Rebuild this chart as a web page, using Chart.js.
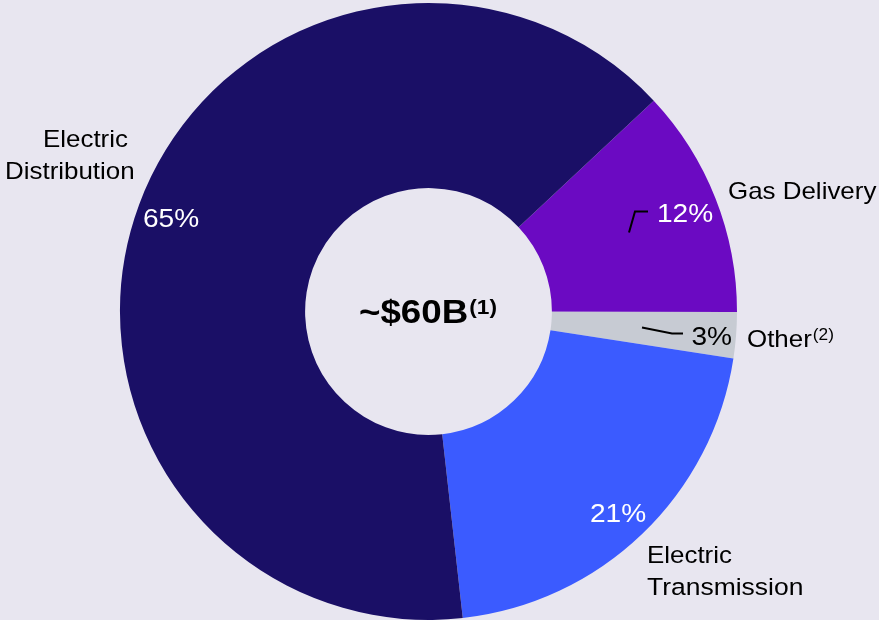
<!DOCTYPE html>
<html>
<head>
<meta charset="utf-8">
<title>Rate base by segment</title>
<script src="https://cdn.jsdelivr.net/npm/chart.js@4.4.1/dist/chart.umd.min.js"></script>
<style>
  html, body { margin: 0; padding: 0; background: #e8e6f0; }
  #wrap { width: 879px; height: 620px; }
</style>
</head>
<body>
<div id="wrap"><canvas id="myChart" width="879" height="620"></canvas></div>
<script>
'use strict';

//***************** Data *****************
// slices go clockwise, starting at Gas Delivery (upper right)
let segmentNames = ['Gas Delivery', 'Other', 'Electric Transmission', 'Electric Distribution'];
let segmentShares = [12.0, 2.4, 20.8, 64.8];
let shareLabels = ['12%', '3%', '21%', '65%'];
let totalLabel = '~$60B';
let totalNote = '(1)';
let otherNote = '(2)';

//***************** Styles *****************
let sliceColors = ['#6b0ac2', '#c7cbd3', '#3b5bff', '#1a0f66'];
let fontFamily = '"Liberation Sans", Arial, Helvetica, sans-serif';
let stretch = 1.08; // text in the picture is a bit wide

//***************** Canvas Reference *****************
let ctx = document.getElementById('myChart');

// write text with a small horizontal stretch, left edge at x
function drawText(c, text, x, y, size, color, bold) {
  c.save();
  c.font = (bold ? 'bold ' : '') + size + 'px ' + fontFamily;
  c.fillStyle = color;
  c.textAlign = 'left';
  c.textBaseline = 'alphabetic';
  c.translate(x, y);
  c.scale(stretch, 1);
  c.fillText(text, 0, 0);
  let w = c.measureText(text).width * stretch;
  c.restore();
  return w;
}

function drawLeader(c, pts) {
  c.save();
  c.strokeStyle = '#000000';
  c.lineWidth = 2;
  c.beginPath();
  c.moveTo(pts[0][0], pts[0][1]);
  for (let i = 1; i < pts.length; i++) {
    c.lineTo(pts[i][0], pts[i][1]);
  }
  c.stroke();
  c.restore();
}

//***************** Label plugin *****************
// labels sit relative to the ring centre that Chart.js worked out
let labelPlugin = {
  id: 'segmentLabels',
  afterDatasetsDraw(chart) {
    let c = chart.ctx;
    let arc = chart.getDatasetMeta(0).data[0];
    let cx = arc.x;
    let cy = arc.y;

    // centre total
    let w = drawText(c, totalLabel, cx - 69.5, cy + 11, 34, '#000000', true);
    drawText(c, totalNote, cx - 69.5 + w + 1, cy + 2, 21, '#000000', true);

    // Gas Delivery
    drawText(c, segmentNames[0], cx + 299.5, cy - 113, 24, '#000000', false);
    drawText(c, shareLabels[0], cx + 228.5, cy - 90, 26, '#ffffff', false);
    drawLeader(c, [[cx + 200.5, cy - 79], [cx + 206.5, cy - 100], [cx + 219.5, cy - 100]]);

    // Other
    drawText(c, shareLabels[1], cx + 263, cy + 33, 26, '#000000', false);
    drawLeader(c, [[cx + 213.5, cy + 16], [cx + 243.5, cy + 22], [cx + 254.5, cy + 22]]);
    let ow = drawText(c, 'Other', cx + 318.5, cy + 35, 24, '#000000', false);
    drawText(c, otherNote, cx + 318.5 + ow + 1, cy + 28, 16, '#000000', false);

    // Electric Transmission
    drawText(c, shareLabels[2], cx + 161.5, cy + 210, 26, '#ffffff', false);
    drawText(c, 'Electric', cx + 218.5, cy + 251, 24, '#000000', false);
    drawText(c, 'Transmission', cx + 218.5, cy + 283, 24.5, '#000000', false);

    // Electric Distribution
    drawText(c, shareLabels[3], cx - 285.5, cy - 85, 26, '#ffffff', false);
    drawText(c, 'Electric', cx - 385.5, cy - 165, 24, '#000000', false);
    drawText(c, 'Distribution', cx - 423.5, cy - 133, 24, '#000000', false);
  }
};

//***************** Chart *****************
let myChartObj = {
  type: 'doughnut',
  data: {
    labels: segmentNames,
    datasets: [{
      data: segmentShares,
      backgroundColor: sliceColors,
      borderWidth: 0,
      hoverOffset: 0,
      offset: 0
    }]
  },
  options: {
    responsive: false,
    animation: false,
    devicePixelRatio: 1,
    rotation: 46.9,
    cutout: '40%',
    layout: {
      padding: { left: 120, right: 142, top: 3, bottom: 0 }
    },
    plugins: {
      legend: { display: false },
      tooltip: { enabled: false }
    }
  },
  plugins: [labelPlugin]
};

new Chart(ctx, myChartObj);
</script>
</body>
</html>
